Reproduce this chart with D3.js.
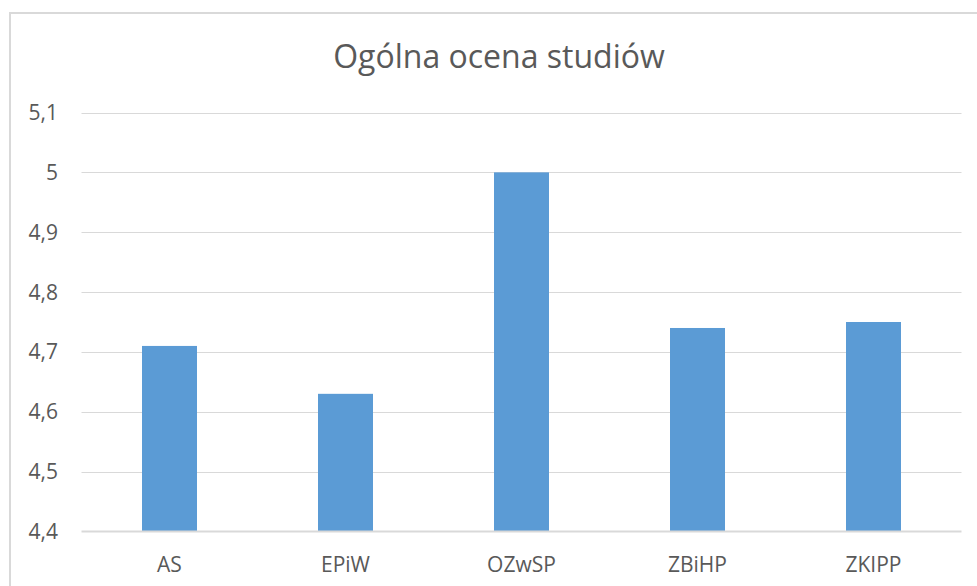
<!DOCTYPE html>
<html><head><meta charset="utf-8">
<script src="https://cdn.jsdelivr.net/npm/d3@7"></script>
<style>body{margin:0;background:#fff}svg{display:block}</style>
</head><body>
<script>
const categories = ["AS", "EPiW", "OZwSP", "ZBiHP", "ZKIPP"];
const values = [4.71, 4.63, 5.0, 4.74, 4.75];
const yTicks = [4.4, 4.5, 4.6, 4.7, 4.8, 4.9, 5.0, 5.1];
const title = "Ogólna ocena studiów";

(function () {
const W = 977, H = 586;
const FONT = "'Open Sans', Lato, sans-serif";
const svg = d3.select("body").append("svg").attr("width", W).attr("height", H);

svg.append("rect").attr("x", 10).attr("y", 13).attr("width", 1000).attr("height", 1000)
  .attr("fill", "#fff").attr("stroke", "#d9d9d9").attr("stroke-width", 2);

const pl = 81.5, pr = 961.5, pt = 112.5, pb = 531.5;
const x = d3.scaleBand().domain(categories).range([pl, pr])
  .paddingInner(0.6875).paddingOuter(0.34375);
const y = d3.scaleLinear().domain([4.4, 5.1]).range([pb, pt]);
const fmt = v => d3.format(".1f")(v).replace(".", ",").replace(/,0$/, "");

svg.append("g").selectAll("line").data(yTicks.filter(t => t > 4.4)).join("line")
  .attr("x1", pl).attr("x2", pr)
  .attr("y1", d => Math.round(y(d)) + 0.5).attr("y2", d => Math.round(y(d)) + 0.5)
  .attr("stroke", "#d9d9d9").attr("stroke-width", 1);

svg.append("g").selectAll("rect").data(values).join("rect")
  .attr("x", (d, i) => x(categories[i]))
  .attr("width", x.bandwidth())
  .attr("y", d => y(d))
  .attr("height", d => y(4.4) - y(d))
  .attr("fill", "#5b9bd5");

svg.append("line").attr("x1", pl).attr("x2", pr)
  .attr("y1", y(4.4)).attr("y2", y(4.4))
  .attr("stroke", "#d9d9d9").attr("stroke-width", 2);

svg.append("g").selectAll("text").data(yTicks).join("text")
  .attr("x", 58).attr("y", d => y(d)).attr("dy", "0.36em")
  .attr("text-anchor", "end").attr("font-family", FONT).attr("font-size", 21)
  .attr("fill", "#595959").text(fmt);

svg.append("g").selectAll("text").data(categories).join("text")
  .attr("x", d => x(d) + x.bandwidth() / 2).attr("y", 572)
  .attr("text-anchor", "middle").attr("font-family", FONT).attr("font-size", 21)
  .attr("fill", "#595959").text(d => d);

svg.append("text").attr("x", 499).attr("y", 68).attr("text-anchor", "middle")
  .attr("font-family", FONT).attr("font-size", 32).attr("fill", "#595959").text(title);
})();
</script>
</body></html>
